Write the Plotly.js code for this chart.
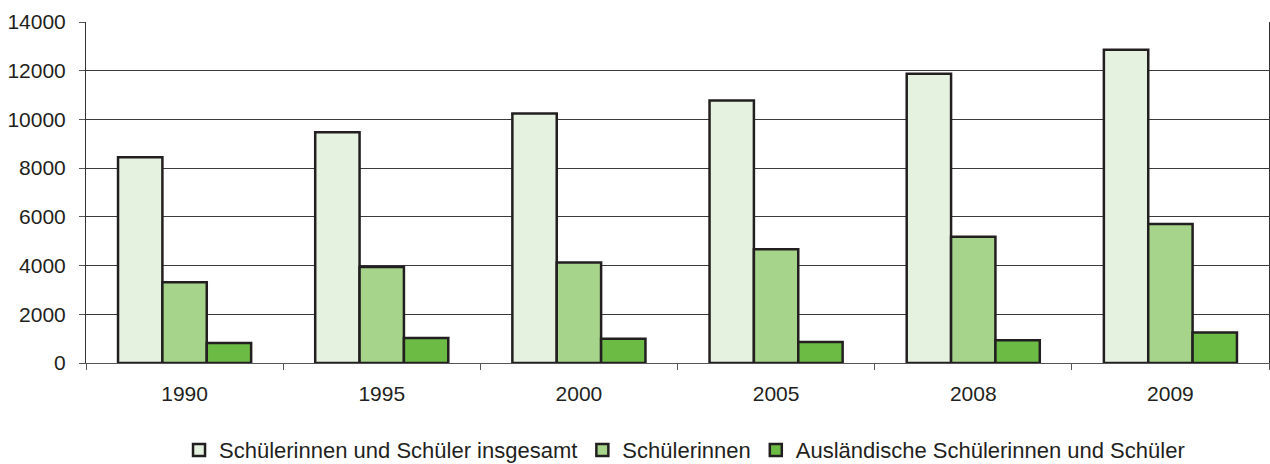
<!DOCTYPE html>
<html>
<head>
<meta charset="utf-8">
<script src="https://cdn.plot.ly/plotly-3.0.1.min.js"></script>
<style>html,body{margin:0;padding:0;background:#fff;}#chart{width:1270px;height:464px;}</style>
</head>
<body>
<div id="chart"></div>
<script>
const years = ["1990", "1995", "2000", "2005", "2008", "2009"];
const seriesNames = ["Schülerinnen und Schüler insgesamt", "Schülerinnen", "Ausländische Schülerinnen und Schüler"];
const insgesamt = [8450, 9470, 10240, 10780, 11880, 12860];
const schuelerinnen = [3320, 3940, 4130, 4670, 5180, 5710];
const auslaendische = [820, 1030, 1000, 860, 930, 1250];
const yTicks = [0, 2000, 4000, 6000, 8000, 10000, 12000, 14000];

const colors = ["#e6f2e0", "#a6d48a", "#6cbb45"];
const values = [insgesamt, schuelerinnen, auslaendische];

const data = values.map((v, i) => ({
  type: "bar",
  name: seriesNames[i],
  x: years,
  y: v,
  marker: {color: colors[i], line: {color: "#231f20", width: 2.5}},
  hoverinfo: "x+y+name"
}));

const font = {family: "Liberation Sans, Arial, sans-serif", size: 21, color: "#231f20"};

const layout = {
  width: 1270,
  height: 464,
  margin: {l: 86, r: 1, t: 22, b: 101},
  paper_bgcolor: "#fff",
  plot_bgcolor: "#fff",
  font: font,
  barmode: "group",
  bargap: 0.325,
  bargroupgap: 0,
  showlegend: true,
  legend: {
    orientation: "h",
    x: 0.539, xanchor: "center",
    xref: "container",
    yref: "container",
    y: 0.03, yanchor: "middle",
    font: {family: font.family, size: 22, color: "#231f20"},
    itemwidth: 30,
    tracegroupgap: 0
  },
  xaxis: {
    type: "category",
    tickson: "boundaries",
    ticks: "outside",
    ticklen: 6,
    tickcolor: "#555",
    showline: true,
    linecolor: "#555",
    linewidth: 1,
    showgrid: false,
    tickfont: font,
    ticklabelstandoff: 12,
    fixedrange: true
  },
  yaxis: {
    range: [0, 14000],
    tickvals: yTicks,
    ticktext: yTicks.map(String),
    ticks: "outside",
    ticklen: 6,
    tickcolor: "#555",
    showline: true,
    mirror: true,
    linecolor: "#333",
    linewidth: 1,
    showgrid: true,
    gridcolor: "#3a3a3a",
    gridwidth: 1,
    zeroline: false,
    tickfont: font,
    ticklabelstandoff: 9,
    fixedrange: true
  }
};

Plotly.newPlot("chart", data, layout, {displayModeBar: false, staticPlot: true});
</script>
</body>
</html>
